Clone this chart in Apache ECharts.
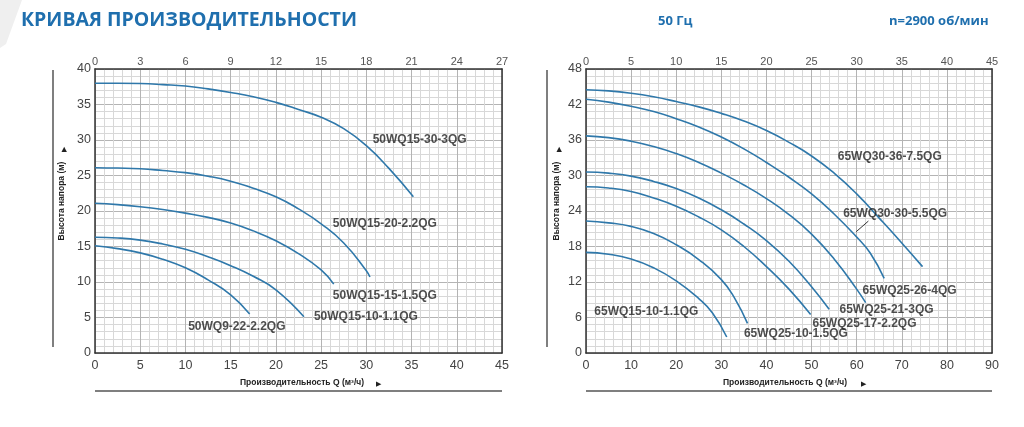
<!DOCTYPE html>
<html>
<head>
<meta charset="utf-8">
<script src="https://cdn.jsdelivr.net/npm/echarts@6/dist/echarts.min.js"></script>
<style>
  html, body { margin: 0; padding: 0; background: #fff; }
  #chart { width: 1024px; height: 427px; }
</style>
</head>
<body>
<div id="chart"></div>
<script>
// left chart: Q (m3/h) vs H (m)
const c50wq15_30_3 = [[0, 38.0], [2.5, 38.0], [5, 37.95], [7.5, 37.8], [10, 37.6], [12.5, 37.2], [15, 36.7], [17.5, 36.1], [20, 35.3], [22.5, 34.3], [25, 33.2], [27.5, 31.6], [30, 29.2], [32.5, 26.0], [35.2, 22.0]];
const c50wq15_20_22 = [[0, 26.1], [2.5, 26.05], [5, 25.95], [7.5, 25.7], [10, 25.4], [12.5, 24.9], [15, 24.2], [17.5, 23.2], [20, 22.0], [22.5, 20.3], [25, 18.2], [27.5, 15.5], [30, 11.6], [30.4, 10.7]];
const c50wq15_15_15 = [[0, 21.1], [2.5, 20.9], [5, 20.6], [7.5, 20.2], [10, 19.7], [12.5, 19.1], [15, 18.3], [17.5, 17.2], [20, 15.8], [22.5, 14.0], [25, 11.7], [26.4, 9.7]];
const c50wq15_10_11 = [[0, 16.3], [2.5, 16.2], [5, 15.9], [7.5, 15.35], [10, 14.6], [12.5, 13.55], [15, 12.3], [17.5, 10.8], [20, 8.9], [23.1, 5.1]];
const c50wq9_22_22 = [[0, 15.1], [2.5, 14.7], [5, 14.1], [7.5, 13.2], [10, 12.0], [12.5, 10.3], [15, 8.2], [17.1, 5.5]];

// right chart
const c65wq30_36_75 = [[0, 44.5], [5, 44.3], [10, 43.9], [15, 43.3], [20, 42.5], [25, 41.6], [30, 40.5], [35, 39.2], [40, 37.6], [45, 35.6], [50, 33.3], [55, 30.4], [60, 26.9], [65, 22.8], [70, 18.6], [74.6, 14.6]];
const c65wq30_30_55 = [[0, 42.9], [5, 42.4], [10, 41.7], [15, 40.8], [20, 39.6], [25, 38.2], [30, 36.5], [35, 34.5], [40, 32.2], [45, 29.7], [50, 26.9], [55, 23.5], [60, 19.6], [63, 16.9], [66.1, 12.6]];
const c65wq25_26_4 = [[0, 36.7], [5, 36.4], [10, 35.8], [15, 34.9], [20, 33.7], [25, 32.2], [30, 30.4], [35, 28.4], [40, 26.1], [45, 23.4], [50, 20.1], [55, 15.9], [60, 10.8], [62, 8.5]];
const c65wq25_21_3 = [[0, 30.6], [5, 30.4], [10, 29.9], [15, 29.0], [20, 27.8], [25, 26.2], [30, 24.2], [35, 21.8], [40, 19.0], [45, 15.5], [50, 11.2], [53.9, 7.4]];
const c65wq25_17_22 = [[0, 28.1], [5, 27.9], [10, 27.3], [15, 26.2], [20, 24.8], [25, 23.0], [30, 20.8], [35, 18.0], [40, 14.6], [45, 10.8], [49.8, 6.5]];
const c65wq25_10_15 = [[0, 22.3], [5, 22.0], [10, 21.4], [15, 20.2], [20, 18.3], [25, 15.8], [30, 12.4], [33, 9.2], [35.8, 5.0]];
const c65wq15_10_11 = [[0, 17.0], [5, 16.7], [10, 15.9], [15, 14.4], [20, 12.2], [25, 9.2], [28, 6.8], [31.2, 2.7]];

// curve names, placed at [Q, H]
const leftLabels = [
  ['50WQ15-30-3QG', 30.7, 30.0],
  ['50WQ15-20-2.2QG', 26.3, 18.2],
  ['50WQ15-15-1.5QG', 26.3, 8.1],
  ['50WQ15-10-1.1QG', 24.2, 5.1],
  ['50WQ9-22-2.2QG', 10.3, 3.7],
];
const rightLabels = [
  ['65WQ30-36-7.5QG', 55.8, 33.1],
  ['65WQ30-30-5.5QG', 57.0, 23.5],
  ['65WQ25-26-4QG', 61.3, 10.5],
  ['65WQ25-21-3QG', 56.2, 7.3],
  ['65WQ25-17-2.2QG', 50.2, 4.9],
  ['65WQ25-10-1.5QG', 35.0, 3.2],
  ['65WQ15-10-1.1QG', 1.85, 7.0],
];
const leaderLine = [[62.6, 22.3], [59.9, 20.5]];

const leftCurves = [c50wq15_30_3, c50wq15_20_22, c50wq15_15_15, c50wq15_10_11, c50wq9_22_22];
const rightCurves = [c65wq30_36_75, c65wq30_30_55, c65wq25_26_4, c65wq25_21_3, c65wq25_17_22, c65wq25_10_15, c65wq15_10_11];

const curveColor = '#2f78aa';
const font = '"Liberation Sans", Arial, sans-serif';

const chart = echarts.init(document.getElementById('chart'));

function bottomAxis(gridIndex, max, interval) {
  return {
    gridIndex: gridIndex,
    type: 'value',
    position: 'bottom',
    min: 0,
    max: max,
    interval: interval,
    axisLine: { show: true, onZero: false, lineStyle: { color: '#333', width: 1.5 } },
    axisTick: { show: false },
    axisLabel: { color: '#444', fontSize: 12.5, fontFamily: font, margin: 6 },
    splitLine: { show: true, lineStyle: { color: '#b4b4b4', width: 1 } },
    minorTick: { show: false, splitNumber: 5 },
    minorSplitLine: { show: true, lineStyle: { color: '#d8d8d8', width: 1 } },
  };
}

function topAxis(gridIndex, max, interval) {
  return {
    gridIndex: gridIndex,
    type: 'value',
    position: 'top',
    min: 0,
    max: max,
    interval: interval,
    axisLine: { show: true, onZero: false, lineStyle: { color: '#333', width: 1.5 } },
    axisTick: { show: false },
    axisLabel: { color: '#555', fontSize: 11, fontFamily: font, margin: 2 },
    splitLine: { show: false },
  };
}

function leftAxis(gridIndex, max, interval) {
  return {
    gridIndex: gridIndex,
    type: 'value',
    position: 'left',
    min: 0,
    max: max,
    interval: interval,
    axisLine: { show: true, onZero: false, lineStyle: { color: '#333', width: 1.5 } },
    axisTick: { show: false },
    axisLabel: { color: '#444', fontSize: 12.5, fontFamily: font, margin: 4 },
    splitLine: { show: true, lineStyle: { color: '#b4b4b4', width: 1 } },
    minorTick: { show: false, splitNumber: 5 },
    minorSplitLine: { show: true, lineStyle: { color: '#d8d8d8', width: 1 } },
  };
}

function rightAxis(gridIndex, max) {
  return {
    gridIndex: gridIndex,
    type: 'value',
    position: 'right',
    min: 0,
    max: max,
    axisLine: { show: true, onZero: false, lineStyle: { color: '#333', width: 1.5 } },
    axisTick: { show: false },
    axisLabel: { show: false },
    splitLine: { show: false },
  };
}

function curveSeries(data, xi, yi) {
  return {
    type: 'line',
    xAxisIndex: xi,
    yAxisIndex: yi,
    data: data,
    smooth: 0.5,
    showSymbol: false,
    silent: true,
    lineStyle: { color: curveColor, width: 1.6 },
    z: 3,
  };
}

function labelSeries(labels, xi, yi) {
  return {
    type: 'scatter',
    xAxisIndex: xi,
    yAxisIndex: yi,
    symbolSize: 0,
    silent: true,
    data: labels.map(l => ({ name: l[0], value: [l[1], l[2]] })),
    label: {
      show: true,
      position: 'right',
      distance: 0,
      formatter: p => p.name,
      color: '#222',
      fontSize: 12,
      fontWeight: 'bold',
      fontFamily: font,
    },
    z: 4,
  };
}

const series = [];
leftCurves.forEach(c => series.push(curveSeries(c, 0, 0)));
rightCurves.forEach(c => series.push(curveSeries(c, 2, 2)));
series.push(labelSeries(leftLabels, 0, 0));
series.push(labelSeries(rightLabels, 2, 2));
series.push({
  type: 'line',
  xAxisIndex: 2,
  yAxisIndex: 2,
  data: leaderLine,
  showSymbol: false,
  silent: true,
  lineStyle: { color: '#333', width: 1 },
  z: 4,
});

const blue = '#1f6fae';
const axisTitle = { fill: '#222', font: 'bold 8.5px ' + font };

const option = {
  animation: false,
  grid: [
    { left: 95, top: 69, width: 407, height: 284 },
    { left: 586, top: 69, width: 406, height: 284 },
  ],
  xAxis: [
    bottomAxis(0, 45, 5),
    topAxis(0, 27, 3),
    bottomAxis(1, 90, 10),
    topAxis(1, 45, 5),
  ],
  yAxis: [
    leftAxis(0, 40, 5),
    rightAxis(0, 40),
    leftAxis(1, 48, 6),
    rightAxis(1, 48),
  ],
  series: series,
  graphic: [
    { type: 'polygon', shape: { points: [[0, 0], [22, 0], [6, 44], [0, 48]] }, style: { fill: '#efefef' }, silent: true },
    { type: 'text', left: 21, top: 10, style: { text: 'КРИВАЯ ПРОИЗВОДИТЕЛЬНОСТИ', fill: blue, font: 'bold 19.5px "Open Sans", sans-serif' } },
    { type: 'text', left: 658, top: 15, style: { text: '50 Гц', fill: blue, font: 'bold 13px "Open Sans", sans-serif' } },
    { type: 'text', left: 889, top: 15, style: { text: 'n=2900 об/мин', fill: blue, font: 'bold 13px "Open Sans", sans-serif' } },

    // left chart frame lines and titles
    { type: 'line', shape: { x1: 53, y1: 70, x2: 53, y2: 347 }, style: { stroke: '#555', lineWidth: 1.5 } },
    { type: 'line', shape: { x1: 95, y1: 391, x2: 502, y2: 391 }, style: { stroke: '#555', lineWidth: 1.5 } },
    { type: 'text', x: 62, y: 201, rotation: Math.PI / 2, style: Object.assign({ text: 'Высота напора (м)', textAlign: 'center', textVerticalAlign: 'middle' }, axisTitle) },
    { type: 'text', x: 64, y: 149, rotation: Math.PI / 2, style: { text: '▶', fill: '#222', font: '7px ' + font, textAlign: 'center', textVerticalAlign: 'middle' } },
    { type: 'text', x: 302, y: 383, style: Object.assign({ text: 'Производительность Q (м³/ч)', textAlign: 'center', textVerticalAlign: 'middle' }, axisTitle) },
    { type: 'text', x: 378, y: 384, style: { text: '▶', fill: '#222', font: '7px ' + font, textAlign: 'center', textVerticalAlign: 'middle' } },

    // right chart frame lines and titles
    { type: 'line', shape: { x1: 547, y1: 70, x2: 547, y2: 347 }, style: { stroke: '#555', lineWidth: 1.5 } },
    { type: 'line', shape: { x1: 586, y1: 391, x2: 992, y2: 391 }, style: { stroke: '#555', lineWidth: 1.5 } },
    { type: 'text', x: 557, y: 201, rotation: Math.PI / 2, style: Object.assign({ text: 'Высота напора (м)', textAlign: 'center', textVerticalAlign: 'middle' }, axisTitle) },
    { type: 'text', x: 559, y: 149, rotation: Math.PI / 2, style: { text: '▶', fill: '#222', font: '7px ' + font, textAlign: 'center', textVerticalAlign: 'middle' } },
    { type: 'text', x: 785, y: 383, style: Object.assign({ text: 'Производительность Q (м³/ч)', textAlign: 'center', textVerticalAlign: 'middle' }, axisTitle) },
    { type: 'text', x: 863, y: 384, style: { text: '▶', fill: '#222', font: '7px ' + font, textAlign: 'center', textVerticalAlign: 'middle' } },
  ],
};

chart.setOption(option);
</script>
</body>
</html>
